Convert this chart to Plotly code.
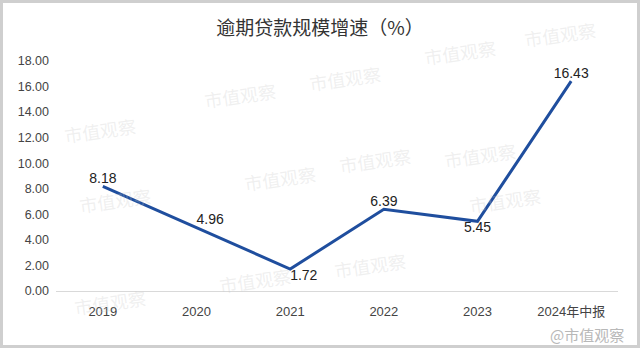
import plotly.graph_objects as go

categories = ["2019", "2020", "2021", "2022", "2023", "2024年中报"]
growth = [8.18, 4.96, 1.72, 6.39, 5.45, 16.43]
label_pos = ["top center", "top right", "bottom right", "top center", "bottom center", "top center"]
tick_vals = [0, 2, 4, 6, 8, 10, 12, 14, 16, 18]

FONT = "Noto Sans CJK SC"
L, R, T, B = 56, 22, 61, 57
PW, PH = 640 - L - R, 348 - T - B


def px(x):
    return (x - L) / PW


def py(y):
    return (348 - B - y) / PH


fig = go.Figure()
fig.add_trace(go.Scatter(
    x=categories, y=growth, mode="lines+text",
    line=dict(color="#1f4e9e", width=3),
    text=[f"{v:.2f}" for v in growth], textposition=label_pos,
    textfont=dict(family="Liberation Sans, Arial", size=14, color="#222"),
    cliponaxis=False, showlegend=False, hoverinfo="skip",
))

# faint watermarks
wm = [(345, 58), (500, 32), (600, 14), (60, 110), (240, 178), (375, 160), (200, 75),
      (75, 220), (545, 220), (215, 300), (370, 285), (70, 322), (520, 135)]
for (wx, wy) in wm:
    fig.add_annotation(x=px(wx), y=py(wy), xref="paper", yref="paper",
                       text="市值观察", showarrow=False, textangle=-8,
                       font=dict(family=FONT, size=18, color="rgba(200,200,200,0.28)"))

fig.add_annotation(x=px(626), y=py(334), xref="paper", yref="paper",
                   text="@市值观察", showarrow=False, xanchor="right", yanchor="middle",
                   font=dict(family=FONT, size=15, color="#b8b8b8"))

fig.update_layout(
    width=640, height=348,
    margin=dict(l=L, r=R, t=T, b=B),
    paper_bgcolor="white", plot_bgcolor="white",
    title=dict(text="逾期贷款规模增速（%）", x=0.5, xanchor="center", y=1 - 28 / 348, yanchor="middle",
               font=dict(family=FONT, size=19, color="#333")),
    xaxis=dict(type="category", range=[-0.5, 5.5], showgrid=False, zeroline=False,
               showline=True, linecolor="#d9d9d9", linewidth=1, ticks="",
               ticklabelstandoff=8,
               tickfont=dict(family="Liberation Sans, " + FONT, size=13, color="#444")),
    yaxis=dict(range=[0, 18], tickvals=tick_vals, ticktext=[f"{v:.2f}" for v in tick_vals],
               showgrid=False, zeroline=False, showline=False, ticks="",
               ticklabelstandoff=6,
               tickfont=dict(family="Liberation Sans", size=12.5, color="#444")),
    shapes=[dict(type="rect", xref="paper", yref="paper",
                 x0=px(1.5), x1=px(638.5), y0=py(346.5), y1=py(1.5),
                 line=dict(color="#cfcfcf", width=3))],
)

fig.write_html("out.html")
